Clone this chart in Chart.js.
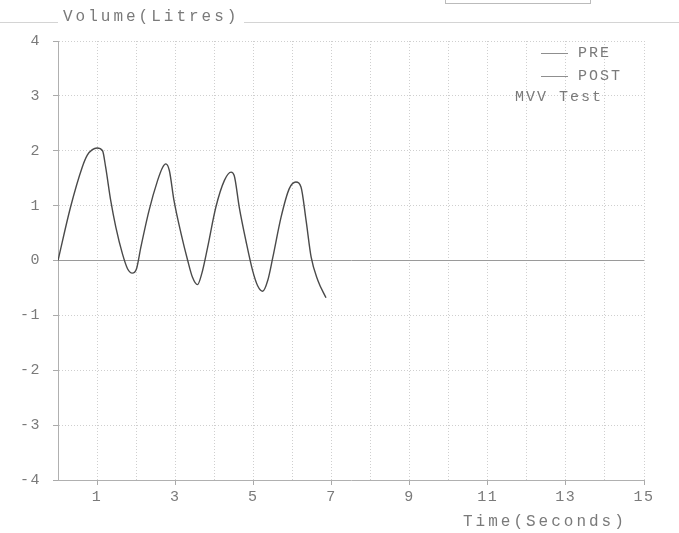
<!DOCTYPE html>
<html><head><meta charset="utf-8">
<script src="https://cdn.jsdelivr.net/npm/chart.js@4.4.1/dist/chart.umd.min.js"></script>
<style>html,body{margin:0;padding:0;background:#fff}canvas{display:block}</style>
</head><body>
<canvas id="c" width="679" height="533"></canvas>
<script>
// ---- data ----
const timeSeconds = [0.0,0.32,0.62,0.75,0.88,1.0,1.14,1.22,1.35,1.48,1.65,1.78,1.9,2.01,2.12,2.33,2.55,2.68,2.76,2.85,2.97,3.15,3.32,3.44,3.57,3.68,3.83,4.04,4.26,4.43,4.51,4.64,4.81,4.98,5.11,5.24,5.37,5.5,5.71,5.92,6.09,6.22,6.35,6.48,6.65,6.86];
const preVolume   = [0.0,0.97,1.70,1.92,2.02,2.05,2.0,1.70,1.09,0.61,0.12,-0.15,-0.23,-0.15,0.24,0.91,1.46,1.70,1.76,1.64,1.09,0.49,0.0,-0.30,-0.44,-0.24,0.24,0.97,1.46,1.61,1.55,0.97,0.36,-0.18,-0.46,-0.56,-0.36,0.06,0.79,1.31,1.43,1.34,0.73,0.06,-0.36,-0.68];
const postTime = [];
const postVolume = [];
const xTickLabels = ['1','3','5','7','9','11','13','15'];
const yTickValues = [-4,-3,-2,-1,0,1,2,3,4];
const seriesNames = ['PRE','POST'];
const testName = 'MVV Test';
const yAxisTitle = 'Volume(Litres)';
const xAxisTitle = 'Time(Seconds)';

const TEXT = '#7a7a7a';
const FONT_FAMILY = '"Liberation Mono", "DejaVu Sans Mono", monospace';

const prePts = timeSeconds.map((t, i) => ({x: t, y: preVolume[i]}));
const postPts = postTime.map((t, i) => ({x: t, y: postVolume[i]}));

const decor = {
  id: 'decor',
  beforeDraw(chart) {
    chart.ctx.letterSpacing = '1.5px';
  },
  afterDraw(chart) {
    const ctx = chart.ctx;
    ctx.save();
    ctx.letterSpacing = '3px';
    // top divider and button outline
    ctx.strokeStyle = '#d4d4d4';
    ctx.lineWidth = 1;
    ctx.beginPath();
    ctx.moveTo(0, 22.5); ctx.lineTo(58, 22.5);
    ctx.moveTo(244, 22.5); ctx.lineTo(679, 22.5);
    ctx.stroke();
    ctx.strokeStyle = '#bbb';
    ctx.strokeRect(445.5, -5.5, 145, 9);
    // axis titles
    ctx.fillStyle = TEXT;
    ctx.font = '16px ' + FONT_FAMILY;
    ctx.textBaseline = 'middle';
    ctx.textAlign = 'left';
    ctx.fillText(yAxisTitle, 63, 17);
    ctx.fillText(xAxisTitle, 463, 522);
    // legend
    ctx.font = '15px ' + FONT_FAMILY;
    ctx.letterSpacing = '2px';
    chart.data.datasets.forEach((ds, i) => {
      const y = 53 + i * 23;
      ctx.strokeStyle = '#8f8f8f';
      ctx.lineWidth = 1;
      ctx.beginPath();
      ctx.moveTo(541, y + 0.5); ctx.lineTo(568, y + 0.5);
      ctx.stroke();
      ctx.fillText(ds.label, 578, y);
    });
    ctx.fillText(testName, 515, 97);
    ctx.restore();
    ctx.letterSpacing = '0px';
  }
};

new Chart(document.getElementById('c'), {
  type: 'line',
  data: {
    datasets: [
      {label: seriesNames[0], data: prePts, borderColor: '#4a4a4a', borderWidth: 1.4,
       pointRadius: 0, fill: false, cubicInterpolationMode: 'monotone'},
      {label: seriesNames[1], data: postPts, borderColor: '#8f8f8f', borderWidth: 1.4,
       pointRadius: 0, fill: false}
    ]
  },
  options: {
    responsive: false,
    animation: false,
    layout: {padding: {top: 41, right: 35, left: 0, bottom: 0}},
    plugins: {legend: {display: false}, tooltip: {enabled: false}, title: {display: false}},
    scales: {
      x: {
        type: 'linear', min: 0, max: 15,
        afterBuildTicks: s => { s.ticks = Array.from({length: 16}, (_, i) => ({value: i})); },
        afterFit: s => { s.height = 53; },
        ticks: {
          autoSkip: false, maxRotation: 0, color: TEXT, padding: 3,
          font: {family: FONT_FAMILY, size: 15},
          callback: v => xTickLabels.includes(String(v)) ? String(v) : ''
        },
        grid: {
          color: '#cfcfcf', lineWidth: 1, tickLength: 5,
          tickColor: c => (c.tick && xTickLabels.includes(String(c.tick.value))) ? '#aaa' : 'rgba(0,0,0,0)'
        },
        border: {color: '#b0b0b0', width: 1, dash: [1, 2]}
      },
      y: {
        type: 'linear', min: -4, max: 4,
        afterBuildTicks: s => { s.ticks = yTickValues.map(v => ({value: v})); },
        afterFit: s => { s.width = 58; },
        ticks: {
          color: TEXT, padding: 12,
          font: {family: FONT_FAMILY, size: 15},
          callback: v => String(v)
        },
        grid: {
          color: c => (c.tick && c.tick.value === 0) ? '#9a9a9a' : '#cfcfcf',
          lineWidth: 1, tickLength: 5, tickColor: '#aaa'
        },
        border: {
          color: '#b0b0b0', width: 1,
          dash: c => (c.tick && c.tick.value === 0) ? [] : [1, 2]
        }
      }
    }
  },
  plugins: [decor]
});
</script>
</body></html>
